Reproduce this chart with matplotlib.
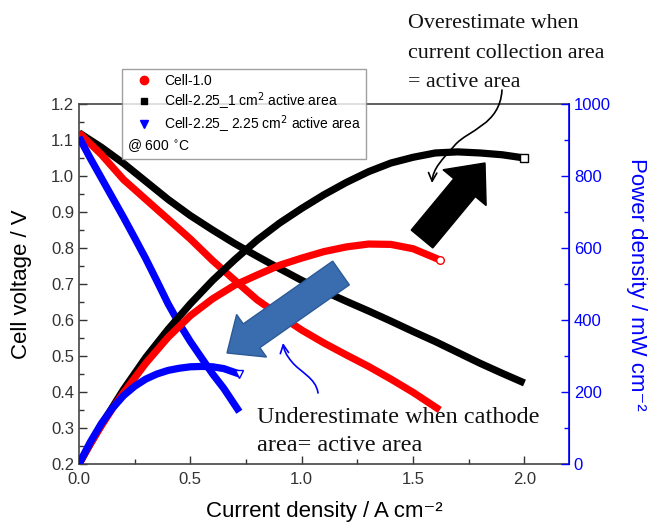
import matplotlib.pyplot as plt
from matplotlib.lines import Line2D
from matplotlib.patches import FancyArrow, FancyArrowPatch
from matplotlib.path import Path
from matplotlib.ticker import MultipleLocator

## ----- DATA ----------------------------- ##

# Cell-1.0
red_i = [0.0, 0.05, 0.1, 0.15, 0.2, 0.3, 0.4, 0.5, 0.6, 0.7, 0.8, 0.9,
         1.0, 1.1, 1.2, 1.3, 1.4, 1.5, 1.62]
red_v = [1.12, 1.09, 1.06, 1.025, 0.99, 0.935, 0.88, 0.825, 0.765, 0.71, 0.656,
         0.613, 0.572, 0.536, 0.503, 0.471, 0.436, 0.399, 0.35]
red_p = [0, 55, 106, 154, 198, 280, 352, 412, 459, 497, 525, 552,
         572, 590, 603, 611, 610, 598, 567]

# Cell-2.25_1 cm2 active area
blk_i = [0.0, 0.05, 0.1, 0.2, 0.3, 0.4, 0.5, 0.6, 0.7, 0.8, 0.9, 1.0,
         1.1, 1.2, 1.3, 1.4, 1.5, 1.6, 1.7, 1.8, 1.9, 2.0]
blk_v = [1.12, 1.10, 1.08, 1.035, 0.985, 0.935, 0.89, 0.85, 0.812, 0.777, 0.743,
         0.71, 0.68, 0.652, 0.625, 0.597, 0.568, 0.54, 0.51, 0.48, 0.452, 0.425]
blk_p = [0, 55, 108, 207, 296, 374, 445, 510, 568, 622, 669, 710,
         748, 782, 812, 836, 852, 864, 867, 864, 859, 850]

# Cell-2.25_ 2.25 cm2 active area
blu_i = [0.0, 0.05, 0.1, 0.15, 0.2, 0.25, 0.3, 0.35, 0.4, 0.45, 0.5,
         0.55, 0.6, 0.65, 0.72]
blu_v = [1.108, 1.05, 0.995, 0.94, 0.885, 0.828, 0.77, 0.708, 0.645, 0.59, 0.54,
         0.495, 0.45, 0.41, 0.345]
blu_p = [0, 60, 112, 155, 190, 216, 236, 250, 260, 266, 270,
         271, 270, 265, 250]

legend_labels = ['Cell-1.0', 'Cell-2.25_1 cm$^2$ active area',
                 'Cell-2.25_ 2.25 cm$^2$ active area']

## ----- FIGURE ------ ##

plt.rcParams['font.family'] = ['Liberation Sans', 'DejaVu Sans']
W, H = 657, 531
fig = plt.figure(figsize=(W / 100, H / 100), dpi=100)
ax = fig.add_axes([79 / W, 1 - 464 / H, 490 / W, 360 / H])
ax2 = ax.twinx()

BLUE = '#0000ff'
lw = 5.2
line_kw = dict(lw=lw, solid_capstyle='butt', solid_joinstyle='round')

ax.plot(blk_i, blk_v, color='black', zorder=3, **line_kw)
ax.plot(red_i, red_v, color='red', zorder=3, **line_kw)
ax.plot(blu_i, blu_v, color=BLUE, zorder=3, **line_kw)

ax2.plot(blk_i, blk_p, color='black', **line_kw)
ax2.plot(red_i, red_p, color='red', **line_kw)
ax2.plot(blu_i, blu_p, color=BLUE, **line_kw)
# hollow end markers
ax2.plot(blk_i[-1:], blk_p[-1:], 's', ms=5.5, mfc='white', mec='black')
ax2.plot(red_i[-1:], red_p[-1:], 'o', ms=5.5, mfc='white', mec='red')
ax2.plot(blu_i[-1:], blu_p[-1:], 'v', ms=5.5, mfc='white', mec=BLUE)

ax.set_xlim(0, 2.2)
ax.set_ylim(0.2, 1.2)
ax2.set_ylim(0, 1000)
ax.xaxis.set_major_locator(MultipleLocator(0.5))
ax.xaxis.set_minor_locator(MultipleLocator(0.25))
ax.yaxis.set_major_locator(MultipleLocator(0.1))
ax.yaxis.set_minor_locator(MultipleLocator(0.05))
ax2.yaxis.set_major_locator(MultipleLocator(200))
ax2.yaxis.set_minor_locator(MultipleLocator(100))

for sp in ['left', 'bottom', 'top']:
    ax.spines[sp].set_color('#444444')
    ax.spines[sp].set_linewidth(1.2)
ax2.spines['right'].set_color(BLUE)
ax2.spines['right'].set_linewidth(1.2)
for sp in ['left', 'bottom', 'top']:
    ax2.spines[sp].set_visible(False)

ax.tick_params(axis='both', which='both', direction='in', top=False, right=False,
               labelsize=12, colors='#333333', width=1.0)
ax.tick_params(which='major', length=6)
ax.tick_params(which='minor', length=3.5)
ax.tick_params(axis='x', pad=6)
ax2.tick_params(axis='y', which='both', direction='in', colors=BLUE, labelsize=12,
                labelcolor=BLUE, width=1.0)
ax2.tick_params(which='major', length=6)
ax2.tick_params(which='minor', length=3.5)

ax.set_xlabel('Current density / A cm\u207b\u00b2', fontsize=16, labelpad=10)
ax.set_ylabel('Cell voltage / V', fontsize=16, labelpad=14)
ax2.set_ylabel('Power density / mW cm\u207b\u00b2', fontsize=16, color=BLUE,
               rotation=-90, labelpad=26)

# legend
handles = [Line2D([], [], ls='none', marker='o', color='red', ms=6),
           Line2D([], [], ls='none', marker='s', color='black', ms=5),
           Line2D([], [], ls='none', marker='v', color=BLUE, ms=6)]
leg = fig.legend(handles, legend_labels, loc='upper left',
                 bbox_to_anchor=(122 / W, 1 - 69 / H), borderaxespad=0,
                 fontsize=10, frameon=True, fancybox=False, edgecolor='#888888',
                 handletextpad=0.3, borderpad=0.35, labelspacing=0.15,
                 handlelength=2.4, title='@ 600 $^{\\circ}$C', title_fontsize=10)
leg._legend_box.align = 'left'
leg.get_frame().set_linewidth(1.0)
# title goes below the entries
leg._legend_box._children.reverse()

## ----- ANNOTATIONS ------ ##

over = dict(family='Liberation Serif', fontsize=15.8, color='#111111', va='baseline')
under = dict(family='Liberation Serif', fontsize=17.5, color='#111111', va='baseline')
fig.text(408 / W, 1 - 28 / H, 'Overestimate when', **over)
fig.text(408 / W, 1 - 57.5 / H, 'current collection area', **over)
fig.text(408 / W, 1 - 87 / H, '= active area', **over)
fig.text(257 / W, 1 - 423 / H, 'Underestimate when cathode', **under)
fig.text(257 / W, 1 - 451 / H, 'area= active area', **under)

# fat arrows (pixel coords, y up)
fig.patches.append(FancyArrow(422, H - 239, 63, 76, width=28, head_width=56,
                              head_length=32, length_includes_head=True,
                              color='black', transform=None, figure=fig))
fig.patches.append(FancyArrow(341, H - 273, -114, -80, width=29, head_width=52,
                              head_length=30, length_includes_head=True,
                              color='#3a6db0', ec='#2c5a96', transform=None,
                              figure=fig))

# thin curved arrows
p_black = Path([(502, H - 90), (500, H - 125), (468, H - 130), (455, H - 145),
                (442, H - 160), (433, H - 168), (432, H - 183)],
               [Path.MOVETO, Path.CURVE4, Path.CURVE4, Path.CURVE4,
                Path.CURVE4, Path.CURVE4, Path.CURVE4])
fig.patches.append(FancyArrowPatch(path=p_black, arrowstyle='->,head_length=6,head_width=3',
                                   color='black', lw=1.2, transform=None, figure=fig))
p_blue = Path([(318, H - 393), (316, H - 378), (300, H - 372), (292, H - 362),
               (286, H - 355), (284, H - 350), (283, H - 343)],
              [Path.MOVETO, Path.CURVE4, Path.CURVE4, Path.CURVE4,
               Path.CURVE4, Path.CURVE4, Path.CURVE4])
fig.patches.append(FancyArrowPatch(path=p_blue, arrowstyle='->,head_length=6,head_width=3',
                                   color=BLUE, lw=1.2, transform=None, figure=fig))

fig.savefig('out.png', dpi=100)
